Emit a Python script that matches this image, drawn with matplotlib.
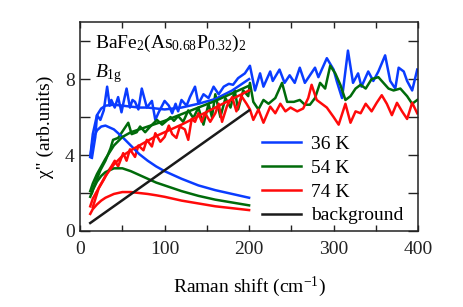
import matplotlib
matplotlib.use("Agg")
import matplotlib.pyplot as plt
from matplotlib.ticker import MultipleLocator

plt.rcParams['font.family'] = ['Liberation Serif', 'DejaVu Serif']
plt.rcParams['mathtext.fontset'] = 'custom'
plt.rcParams['mathtext.rm'] = 'Liberation Serif'
plt.rcParams['mathtext.it'] = 'Liberation Serif:italic'

# measured spectra (Raman shift in cm-1, chi'' in arb. units)
x_36 = [14, 18, 20, 24, 28, 32, 35, 37, 41, 45, 49, 52, 55, 59, 62, 65, 69, 73, 79, 85, 89, 93, 100,
        105, 109, 113, 116, 120, 126, 130, 136, 140, 146, 152, 158, 164, 170, 176, 181, 187, 195,
        201, 207, 213, 217, 225, 228, 236, 242, 248, 254, 260, 266, 272, 278, 282, 292, 300,
        304, 310, 317, 323, 329, 333, 341, 347, 353, 361, 367, 373, 377, 383, 387, 393, 399]
y_36 = [3.85, 4.95, 6.1, 5.85, 6.35, 7.6, 6.6, 6.9, 6.5, 7.05, 6.25, 6.9, 7.5, 6.5, 6.9, 6.8, 6.4, 7.5, 6.5, 6.85, 5.85, 6.25, 6.85,
        6.6, 6.2, 6.7, 6.3, 6.9, 6.6, 7.05, 7.6, 6.7, 7.2, 7.0, 7.6, 7.2, 7.6, 7.75, 7.7, 8.05, 8.3,
        8.7, 7.4, 8.3, 7.6, 8.4, 7.9, 8.5, 7.8, 8.2, 7.8, 8.6, 7.8, 8.2, 8.6, 8.1, 9.1, 8.5,
        7.85, 7.0, 9.5, 7.8, 8.3, 7.6, 8.4, 7.9, 8.4, 9.25, 7.9, 7.5, 8.6, 8.4, 7.9, 7.4, 8.5]

x_54 = [14, 16, 24, 30, 36, 39, 45, 51, 57, 61, 67, 71, 77, 83, 91, 97,
        101, 107, 111, 116, 122, 128, 134, 140, 146, 152, 156, 160, 166, 172, 178, 183, 187, 193, 199,
        201, 205, 211, 217, 223, 231, 239, 245, 253, 260, 266, 272, 278, 284, 290, 296,
        302, 308, 314, 320, 326, 332, 338, 345, 353, 359, 365, 371, 379, 387, 393, 399]
y_54 = [2.0, 2.3, 3.2, 3.7, 4.35, 4.8, 4.9, 5.3, 5.7, 5.1, 5.2, 5.5, 5.2, 5.5, 5.85, 5.6,
        5.75, 6.0, 5.8, 6.05, 5.75, 6.35, 5.95, 6.5, 5.6, 6.7, 6.0, 7.2, 6.0, 7.0, 6.5, 7.4, 6.4, 7.4, 7.1,
        7.8, 6.8, 6.4, 6.9, 6.7, 7.0, 7.8, 6.8, 6.8, 6.9, 6.65, 6.65, 7.0, 7.8, 7.5, 8.7,
        8.3, 7.7, 6.9, 7.1, 7.5, 7.7, 7.5, 8.0, 8.1, 7.8, 7.5, 7.4, 7.5, 7.1, 6.7, 6.9]

x_74 = [15, 22, 28, 34, 37, 41, 45, 51, 55, 59, 65, 69, 75, 79, 85, 89, 95, 100,
        105, 109, 114, 118, 124, 128, 132, 136, 140, 144, 148, 154, 160, 164, 168, 174, 180, 185, 191, 197,
        201, 205, 211, 217, 225, 231, 237, 243, 249, 257, 264, 270, 274, 280, 286, 292, 300,
        306, 314, 320, 326, 332, 338, 345, 351, 357, 363, 369, 375, 381, 387, 393, 399]
y_74 = [1.25, 2.25, 2.7, 3.2, 3.4, 3.7, 3.4, 4.1, 3.7, 4.3, 3.9, 4.5, 4.25, 4.8, 4.45, 5.15, 4.7, 4.95,
        5.55, 5.1, 4.9, 5.5, 5.35, 4.8, 5.9, 5.75, 6.2, 5.75, 6.2, 5.75, 6.2, 6.7, 5.75, 6.6, 7.05, 6.3, 7.1, 6.7,
        6.4, 5.85, 6.4, 5.7, 6.55, 6.2, 6.7, 6.3, 6.5, 6.3, 6.45, 7.0, 7.7, 6.9, 6.7, 6.5, 6.0,
        5.6, 6.7, 5.7, 6.3, 6.2, 6.7, 6.3, 6.75, 7.15, 6.7, 6.1, 6.75, 6.3, 5.9, 6.75, 6.2]

# fits (total and peak components), 12-200 cm-1
x_fit = [12, 15, 20, 25, 30, 40, 50, 60, 70, 80, 90, 100, 120, 140, 160, 180, 200]
fit_36 = [3.9, 5.1, 6.1, 6.45, 6.6, 6.65, 6.6, 6.55, 6.5, 6.5, 6.45, 6.4, 6.5, 6.7, 6.95, 7.4, 8.0]
fit_54 = [2.1, 2.5, 3.0, 3.4, 3.8, 4.5, 4.95, 5.2, 5.35, 5.5, 5.65, 5.8, 6.15, 6.5, 6.85, 7.25, 7.65]
fit_74 = [1.3, 1.7, 2.1, 2.5, 2.9, 3.5, 3.95, 4.25, 4.5, 4.75, 5.0, 5.2, 5.6, 6.05, 6.5, 6.95, 7.4]
peak_36 = [3.9, 4.8, 5.3, 5.5, 5.55, 5.35, 4.95, 4.5, 4.05, 3.7, 3.4, 3.15, 2.75, 2.4, 2.15, 1.95, 1.75]
peak_54 = [1.8, 2.15, 2.6, 2.9, 3.1, 3.3, 3.3, 3.15, 2.95, 2.75, 2.55, 2.4, 2.1, 1.85, 1.65, 1.5, 1.35]
peak_74 = [0.9, 1.15, 1.4, 1.6, 1.75, 1.95, 2.05, 2.05, 2.0, 1.95, 1.88, 1.8, 1.6, 1.45, 1.3, 1.2, 1.1]
x_bg = [12, 200]
y_bg = [0.42, 6.35]

colors = ['#0a3cff', '#006b0a', '#ff0a0a']
labels = ['36 K', '54 K', '74 K']

fig = plt.figure(figsize=(4.63, 3.07), dpi=100)
ax = fig.add_axes([0.173, 0.2476, 0.73, 0.6804])

lw = 1.8
for xs, ys, c in zip([x_36, x_54, x_74], [y_36, y_54, y_74], colors):
    ax.plot(xs, ys, color=c, lw=lw)
for f, p, c, lab in zip([fit_36, fit_54, fit_74], [peak_36, peak_54, peak_74], colors, labels):
    ax.plot(x_fit, f, color=c, lw=lw)
    ax.plot(x_fit, p, color=c, lw=lw, label=lab)
ax.plot(x_bg, y_bg, color='#1a1a1a', lw=lw, label='background')

ax.set_xlim(0, 400)
ax.set_ylim(0, 11)
ax.xaxis.set_major_locator(MultipleLocator(100))
ax.xaxis.set_minor_locator(MultipleLocator(50))
ax.yaxis.set_major_locator(MultipleLocator(4))
ax.yaxis.set_minor_locator(MultipleLocator(2))
ax.tick_params(axis='both', which='both', direction='in', top=True, right=True,
               width=1.0, labelsize=14, colors='#222222')
ax.tick_params(axis='x', which='both', length=4.5, pad=7)
ax.tick_params(axis='y', which='both', length=7, pad=4)
for s in ax.spines.values():
    s.set_linewidth(1.1)
    s.set_color('#222222')

ax.set_xlabel('Raman shift (cm$^{-1}$)', fontsize=14, labelpad=12)
ax.set_ylabel('χ" (arb.units)', fontsize=14, labelpad=8)

ax.text(0.045, 0.95, r'BaFe$_2$(As$_{0.68}$P$_{0.32}$)$_2$', transform=ax.transAxes,
        fontsize=14, va='top', ha='left')
ax.text(0.045, 0.81, r'$B_{\rm 1g}$', transform=ax.transAxes,
        fontsize=14, va='top', ha='left')

ax.legend(loc='lower right', frameon=False, fontsize=14, handlelength=2.0,
          handletextpad=0.5, labelspacing=0.32, borderaxespad=0.1,
          bbox_to_anchor=(0.985, -0.015))

fig.savefig('out.png', dpi=100)
